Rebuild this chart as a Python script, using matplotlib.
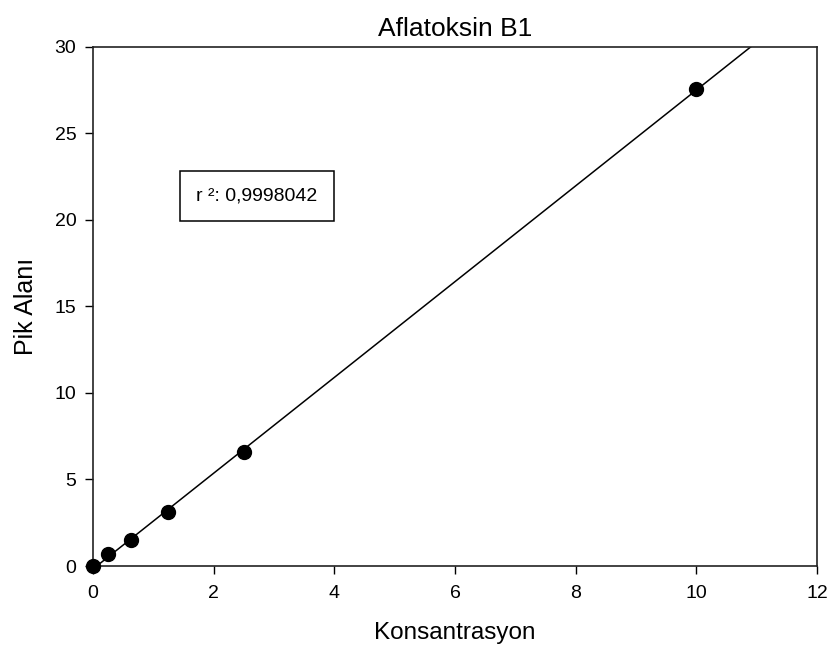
import numpy as np
import matplotlib
matplotlib.use("Agg")
import matplotlib.pyplot as plt

plt.rcParams['font.family'] = ['Liberation Sans', 'DejaVu Sans']

konsantrasyon = [0.0, 0.25, 0.625, 1.25, 2.5, 10.0]
pik_alani = [0.0, 0.68, 1.48, 3.12, 6.6, 27.55]
x_ticks = [0, 2, 4, 6, 8, 10, 12]
y_ticks = [0, 5, 10, 15, 20, 25, 30]
r2_text = "r ²: 0,9998042"

fig = plt.figure(figsize=(8.35, 6.62), dpi=100)
ax = fig.add_axes([0.1114, 0.145, 0.867, 0.7845])

slope, intercept = np.polyfit(konsantrasyon, pik_alani, 1)
xl = np.array([0.0, 12.0])
ax.plot(xl, slope * xl + intercept, color='black', lw=1.1, zorder=2)
ax.plot(konsantrasyon, pik_alani, 'o', color='black', ms=10, zorder=3, clip_on=False)

ax.set_xlim(0, 12)
ax.set_ylim(0, 30)
ax.set_xticks(x_ticks)
ax.set_yticks(y_ticks)
ax.tick_params(direction='out', length=6, width=1, labelsize=14, top=False, right=False)
ax.tick_params(axis='y', pad=6)
ax.tick_params(axis='x', pad=8)
for s in ax.spines.values():
    s.set_color('#222222')
    s.set_linewidth(1.2)

ax.set_xlabel("Konsantrasyon", fontsize=17.5, labelpad=14)
ax.set_ylabel("Pik Alanı", fontsize=18, labelpad=12)
ax.set_title("Aflatoksin B1", fontsize=19, pad=8)

ax.text(2.72, 21.4, r2_text, fontsize=14, ha='center', va='center',
        bbox=dict(boxstyle='square,pad=0.85', facecolor='white', edgecolor='black', lw=1.1))

fig.savefig("out.png", dpi=100)
